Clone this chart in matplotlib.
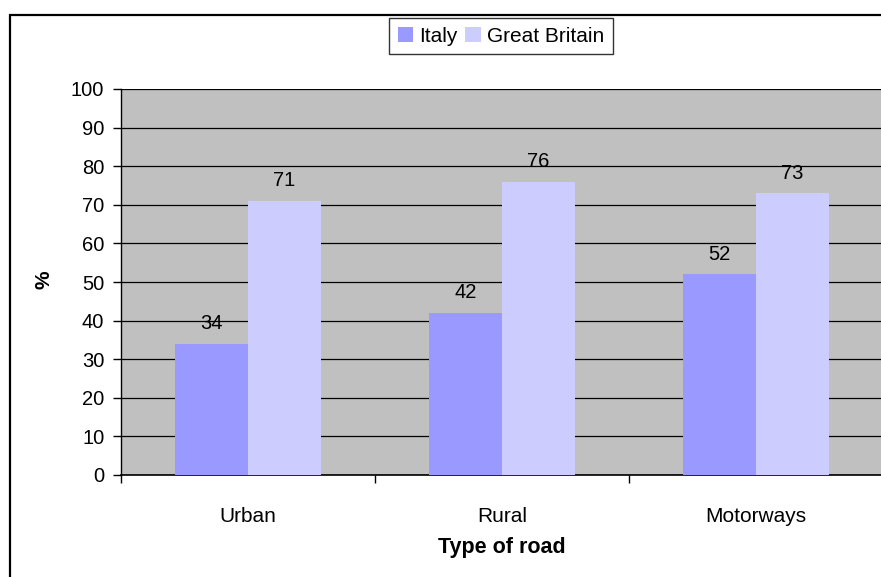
import numpy as np
import matplotlib.pyplot as plt
from matplotlib.patches import Rectangle

categories = ["Urban", "Rural", "Motorways"]
italy = [34, 42, 52]
great_britain = [71, 76, 73]
series_names = ["Italy", "Great Britain"]

plt.rcParams['font.family'] = ['Liberation Sans', 'DejaVu Sans']

W, H = 881, 577
fig = plt.figure(figsize=(W / 100, H / 100), dpi=100)
fig.patch.set_facecolor('white')

# plot area (runs just past the right edge, like the cropped original)
ax = fig.add_axes([121 / W, (H - 475) / H, (883 - 121) / W, (475 - 89) / H])
ax.set_facecolor('#C0C0C0')

x = np.arange(len(categories))
w = 1 / 3.5
b1 = ax.bar(x - w / 2, italy, w, color='#9999FF', label=series_names[0], zorder=3)
b2 = ax.bar(x + w / 2, great_britain, w, color='#CCCCFF', label=series_names[1], zorder=3)

for bars in (b1, b2):
    for r in bars:
        ax.annotate(f"{r.get_height():.0f}", (r.get_x() + r.get_width() / 2, r.get_height()),
                    xytext=(0, 20), textcoords='offset pixels', ha='center', va='center',
                    fontsize=14.5, zorder=4)

ax.set_xlim(-0.5, 2.5)
ax.set_ylim(0, 100)
ax.set_yticks(np.arange(0, 101, 10))
ax.yaxis.grid(True, color='black', linewidth=0.9, zorder=1)
ax.set_axisbelow(True)

ax.set_xticks(x)
ax.set_xticklabels(categories, fontsize=15)
ax.set_xticks([-0.5, 0.5, 1.5], minor=True)
ax.tick_params(axis='x', which='major', length=0, pad=23)
ax.tick_params(axis='x', which='minor', length=6, width=1, direction='out')
ax.tick_params(axis='y', length=6, width=1, direction='out', labelsize=14.5, pad=6)

for s in ('top', 'right'):
    ax.spines[s].set_visible(False)
ax.spines['left'].set_linewidth(1)
ax.spines['bottom'].set_linewidth(1.2)

fig.text(44 / W, 1 - 280 / H, "%", rotation=90, fontsize=15, fontweight='bold',
         ha='center', va='center')
fig.text(502 / W, 1 - 547 / H, "Type of road", fontsize=15.5, fontweight='bold',
         ha='center', va='center')

leg = fig.legend(loc='center', bbox_to_anchor=(501 / W, 1 - 36 / H), ncol=2, fontsize=15,
                 frameon=True, fancybox=False, edgecolor='black', handlelength=0.75,
                 handleheight=0.75, handletextpad=0.3, columnspacing=0.35, borderpad=0.4,
                 borderaxespad=0)
leg.get_frame().set_linewidth(1)

# outer chart border (cropped at right and bottom)
fig.patches.append(Rectangle((9.5 / W, -0.1), 1.2, 1.1 - 14.5 / H, transform=fig.transFigure,
                             fill=False, edgecolor='black', linewidth=1.6))

fig.savefig("out.png", dpi=100)
